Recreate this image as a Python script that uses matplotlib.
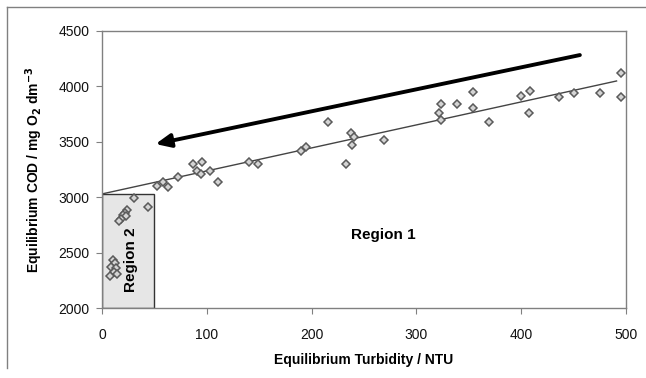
import matplotlib.pyplot as plt
from matplotlib.lines import Line2D
from matplotlib.patches import Rectangle

plt.rcParams["font.family"] = ["Liberation Sans", "DejaVu Sans"]

# Region 2 (low turbidity) measurements
r2_turbidity = [10, 12, 9, 13, 11, 8, 14, 24, 22, 20, 23, 18, 16, 30, 44]
r2_cod = [2430, 2405, 2370, 2360, 2325, 2290, 2305,
          2885, 2860, 2840, 2830, 2805, 2785, 2995, 2910]

# Region 1 measurements
r1_turbidity = [52, 58, 63, 72, 87, 95, 91, 94, 103, 111, 140, 149, 190, 195,
                216, 233, 238, 240, 239, 269, 323, 322, 323, 339, 354, 354,
                369, 400, 408, 407, 436, 450, 475, 495, 495]
r1_cod = [3100, 3137, 3092, 3182, 3300, 3318, 3236, 3209, 3236, 3137, 3318,
          3300, 3417, 3453, 3679, 3300, 3579, 3543, 3471, 3516, 3841, 3760,
          3697, 3841, 3949, 3805, 3679, 3910, 3958, 3760, 3904, 3940, 3940,
          4121, 3904]

# linear trend line end points
trend_x = [0, 491]
trend_y = [3030, 4049]

# region 2 box and the direction arrow
region2_box = (0, 2000, 50, 3030)
arrow_start = (456, 4283)
arrow_end = (51, 3480)

fig = plt.figure(figsize=(6.46, 3.78), dpi=100)
ax = fig.add_axes([0.158, 0.185, 0.811, 0.733])

x0, y0, x1, y1 = region2_box
ax.add_patch(Rectangle((x0, y0), x1 - x0, y1 - y0, facecolor="#e6e6e6",
                       edgecolor="#333333", linewidth=1.0, zorder=1))

ax.plot(trend_x, trend_y, color="#444444", linewidth=1.0, zorder=2)

turbidity = r2_turbidity + r1_turbidity
cod = r2_cod + r1_cod
ax.plot(turbidity, cod, linestyle="none", marker="D", markersize=3.8,
        markerfacecolor="#d4d4d4", markeredgecolor="#5a5a5a",
        markeredgewidth=1.1, zorder=3)

ax.annotate("", xy=arrow_end, xytext=arrow_start,
            arrowprops=dict(arrowstyle="-|>,head_length=0.9,head_width=0.4",
                            color="black", linewidth=2.8, shrinkA=0, shrinkB=0),
            zorder=4)

ax.text(268, 2660, "Region 1", fontsize=11, fontweight="bold",
        ha="center", va="center")
ax.text(28, 2433, "Region 2", fontsize=11, fontweight="bold",
        ha="center", va="center", rotation=90)

ax.set_xlim(0, 500)
ax.set_ylim(2000, 4500)
ax.set_xticks(range(0, 501, 100))
ax.set_yticks(range(2000, 4501, 500))

for side in ["left", "bottom", "right", "top"]:
    ax.spines[side].set_color("#808080")
    ax.spines[side].set_linewidth(1.0)
ax.tick_params(axis="both", direction="out", length=4, color="#808080",
               labelsize=10, labelcolor="#111111")
ax.tick_params(axis="x", pad=10)
ax.tick_params(axis="y", pad=5)

ax.set_xlabel("Equilibrium Turbidity / NTU", fontsize=10, fontweight="bold",
              labelpad=8)
ax.set_ylabel("Equilibrium COD / mg O$_\\mathbf{2}$ dm$^\\mathbf{-3}$",
              fontsize=10, fontweight="bold", labelpad=10)

# outer frame (top and left edges visible)
fig.add_artist(Line2D([7 / 646, 1.0], [1 - 7 / 378, 1 - 7 / 378],
                      transform=fig.transFigure, color="#808080", linewidth=1.0))
fig.add_artist(Line2D([7 / 646, 7 / 646], [1 - 7 / 378, 1 - 368 / 378],
                      transform=fig.transFigure, color="#808080", linewidth=1.0))

fig.savefig("out.png", dpi=100)
